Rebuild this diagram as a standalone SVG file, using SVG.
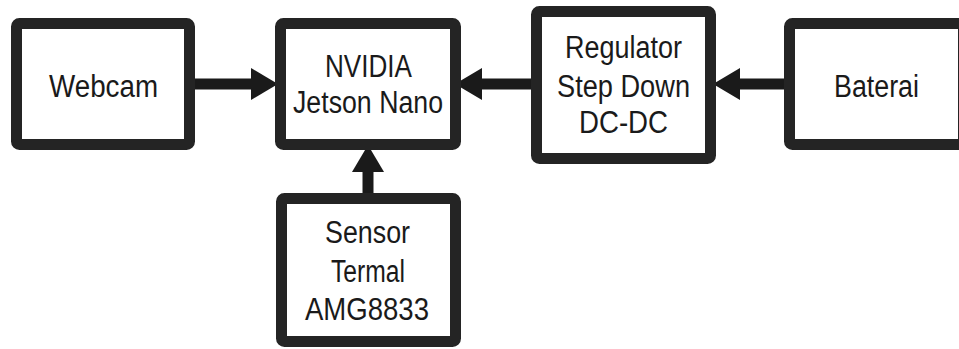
<svg xmlns="http://www.w3.org/2000/svg" width="959" height="349" viewBox="0 0 959 349">
  <style>
    .box { fill: #ffffff; stroke: #242424; stroke-width: 11; }
    .lbl { font-family: "Liberation Sans", Arial, sans-serif; font-size: 31px; fill: #1a1a1a; text-anchor: middle; }
    .conn { stroke: #1a1a1a; stroke-width: 11; fill: none; }
  </style>
  <defs>
    <marker id="ah" markerUnits="userSpaceOnUse" markerWidth="27" markerHeight="32" refX="0" refY="16" orient="auto">
      <path d="M0,0 L27,16 L0,32 Z" fill="#1a1a1a"/>
    </marker>
  </defs>
  <rect width="959" height="349" fill="#ffffff"/>
  <g id="connectors">
    <line class="conn" x1="195" y1="84" x2="251" y2="84" marker-end="url(#ah)"/>
    <line class="conn" x1="531" y1="84" x2="482" y2="84" marker-end="url(#ah)"/>
    <line class="conn" x1="784" y1="84" x2="740" y2="84" marker-end="url(#ah)"/>
    <line class="conn" x1="368" y1="193" x2="368" y2="172" marker-end="url(#ah)"/>
  </g>
  <g id="webcam">
    <rect class="box" x="16.5" y="23.5" width="173" height="121" rx="3"/>
    <text class="lbl" x="103.5" y="96.7" textLength="109" lengthAdjust="spacingAndGlyphs">Webcam</text>
  </g>
  <g id="jetson">
    <rect class="box" x="280.5" y="23.5" width="175" height="121" rx="3"/>
    <text class="lbl" x="368.5" y="76.7" textLength="87" lengthAdjust="spacingAndGlyphs">NVIDIA</text>
    <text class="lbl" x="368" y="113.3" textLength="150" lengthAdjust="spacingAndGlyphs">Jetson Nano</text>
  </g>
  <g id="regulator">
    <rect class="box" x="536.5" y="11.5" width="174" height="147" rx="3"/>
    <text class="lbl" x="623.5" y="58.3" textLength="117" lengthAdjust="spacingAndGlyphs">Regulator</text>
    <text class="lbl" x="623.5" y="96.7" textLength="133" lengthAdjust="spacingAndGlyphs">Step Down</text>
    <text class="lbl" x="623.5" y="133.3" textLength="89" lengthAdjust="spacingAndGlyphs">DC-DC</text>
  </g>
  <g id="baterai">
    <rect class="box" x="789.5" y="23.5" width="174" height="121" rx="3"/>
    <text class="lbl" x="876.5" y="96.7" textLength="85" lengthAdjust="spacingAndGlyphs">Baterai</text>
  </g>
  <g id="sensor">
    <rect class="box" x="281.5" y="198.5" width="174" height="143" rx="3"/>
    <text class="lbl" x="367.5" y="243.3" textLength="85" lengthAdjust="spacingAndGlyphs">Sensor</text>
    <text class="lbl" x="368" y="281.7" textLength="74" lengthAdjust="spacingAndGlyphs">Termal</text>
    <text class="lbl" x="367" y="320" textLength="124" lengthAdjust="spacingAndGlyphs">AMG8833</text>
  </g>
</svg>
